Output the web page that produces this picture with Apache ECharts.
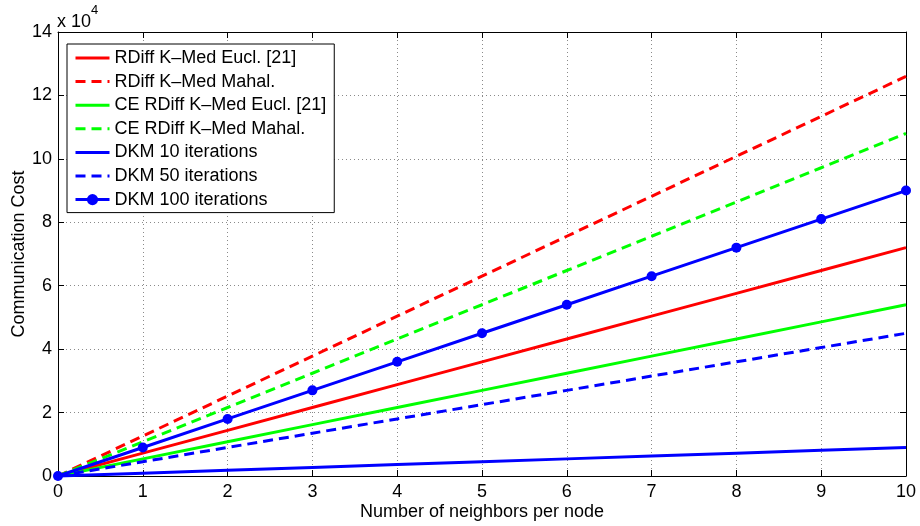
<!DOCTYPE html>
<html>
<head>
<meta charset="utf-8">
<script src="https://cdn.jsdelivr.net/npm/echarts@6/dist/echarts.min.js"></script>
<style>
  html, body { margin: 0; padding: 0; background: #fff; }
  #chart { width: 920px; height: 526px; }
</style>
</head>
<body>
<div id="chart"></div>
<script>
// neighbors per node
const neighbors = [0, 1, 2, 3, 4, 5, 6, 7, 8, 9, 10];
// communication cost, in units of 10^4
const rdiffEucl = [0, 0.72, 1.44, 2.16, 2.88, 3.6, 4.32, 5.04, 5.76, 6.48, 7.2];
const rdiffMahal = [0, 1.26, 2.52, 3.78, 5.04, 6.3, 7.56, 8.82, 10.08, 11.34, 12.6];
const ceEucl = [0, 0.54, 1.08, 1.62, 2.16, 2.7, 3.24, 3.78, 4.32, 4.86, 5.4];
const ceMahal = [0, 1.08, 2.16, 3.24, 4.32, 5.4, 6.48, 7.56, 8.64, 9.72, 10.8];
const dkm10 = [0, 0.09, 0.18, 0.27, 0.36, 0.45, 0.54, 0.63, 0.72, 0.81, 0.9];
const dkm50 = [0, 0.45, 0.9, 1.35, 1.8, 2.25, 2.7, 3.15, 3.6, 4.05, 4.5];
const dkm100 = [0, 0.9, 1.8, 2.7, 3.6, 4.5, 5.4, 6.3, 7.2, 8.1, 9.0];

const FONT = "'Liberation Sans', Arial, Helvetica, sans-serif";
const FS = 18;
const dash = [10, 6];

const pairs = (ys) => neighbors.map((x, i) => [x, ys[i]]);

const mkLine = (name, ys, color, dashed, marker) => ({
  name: name,
  type: "line",
  data: pairs(ys),
  symbol: marker ? "circle" : "none",
  symbolSize: 10,
  showSymbol: !!marker,
  clip: false,
  itemStyle: { color: color },
  lineStyle: { color: color, width: 3, type: dashed ? dash : "solid" },
  emphasis: { disabled: true },
  animation: false,
});

// legend entries; only the last one shows a marker
const legendItem = (name, marker) => ({
  name: name,
  itemStyle: { opacity: marker ? 1 : 0 },
});

const myChart = echarts.init(document.getElementById("chart"));

const option = {
  animation: false,
  textStyle: { fontFamily: FONT, color: "#000" },
  grid: { left: 58, right: 14, top: 32, bottom: 50, outerBoundsMode: "none", containLabel: false },
  legend: {
    left: 67,
    top: 44,
    orient: "vertical",
    backgroundColor: "#fff",
    borderColor: "#000",
    borderWidth: 1,
    padding: [4, 8, 3, 7],
    itemWidth: 34,
    itemHeight: 14,
    itemGap: 3.6,
    itemStyle: { borderWidth: 0 },
    lineStyle: { width: 3 },
    textStyle: { fontFamily: FONT, fontSize: FS, color: "#000", lineHeight: 20 },
    data: [
      legendItem("RDiff K–Med Eucl. [21]", false),
      legendItem("RDiff K–Med Mahal.", false),
      legendItem("CE RDiff K–Med Eucl. [21]", false),
      legendItem("CE RDiff K–Med Mahal.", false),
      legendItem("DKM 10 iterations", false),
      legendItem("DKM 50 iterations", false),
      legendItem("DKM 100 iterations", true),
    ],
  },
  xAxis: [
    {
      type: "value",
      min: 0,
      max: 10,
      interval: 1,
      name: "Number of neighbors per node",
      nameLocation: "middle",
      nameGap: 27,
      nameMoveOverlap: false,
      nameTextStyle: { fontSize: FS, color: "#000", fontFamily: FONT },
      axisLine: { show: true, lineStyle: { color: "#000", width: 1 } },
      axisTick: { show: true, inside: true, length: 6, lineStyle: { color: "#000" } },
      axisLabel: { fontSize: FS, color: "#000", margin: 7, fontFamily: FONT },
      splitLine: { show: true, lineStyle: { color: "#8a8a8a", type: [1, 3], width: 1 } },
    },
    {
      type: "value",
      position: "top",
      min: 0,
      max: 10,
      interval: 1,
      axisLine: { show: true, onZero: false, lineStyle: { color: "#000", width: 1 } },
      axisTick: { show: true, inside: true, length: 6, lineStyle: { color: "#000" } },
      axisLabel: { show: false },
      splitLine: { show: false },
    },
  ],
  yAxis: [
    {
      type: "value",
      min: 0,
      max: 14,
      interval: 2,
      name: "Communication Cost",
      nameLocation: "middle",
      nameGap: 30,
      nameMoveOverlap: false,
      nameTextStyle: { fontSize: FS, color: "#000", fontFamily: FONT },
      axisLine: { show: true, lineStyle: { color: "#000", width: 1 } },
      axisTick: { show: true, inside: true, length: 6, lineStyle: { color: "#000" } },
      axisLabel: { fontSize: FS, color: "#000", margin: 6, fontFamily: FONT },
      splitLine: { show: true, lineStyle: { color: "#8a8a8a", type: [1, 3], width: 1 } },
    },
    {
      type: "value",
      position: "right",
      min: 0,
      max: 14,
      interval: 2,
      axisLine: { show: true, onZero: false, lineStyle: { color: "#000", width: 1 } },
      axisTick: { show: true, inside: true, length: 6, lineStyle: { color: "#000" } },
      axisLabel: { show: false },
      splitLine: { show: false },
    },
  ],
  graphic: [
    {
      type: "text",
      left: 57,
      top: 4,
      style: {
        text: "{a|x 10}{b|4}",
        rich: {
          a: { fontSize: FS, fontFamily: FONT, fill: "#000", padding: [9, 0, 0, 0] },
          b: { fontSize: 13, fontFamily: FONT, fill: "#000", verticalAlign: "top" },
        },
      },
    },
  ],
  series: [
    mkLine("RDiff K–Med Eucl. [21]", rdiffEucl, "#ff0000", false, false),
    mkLine("RDiff K–Med Mahal.", rdiffMahal, "#ff0000", true, false),
    mkLine("CE RDiff K–Med Eucl. [21]", ceEucl, "#00ff00", false, false),
    mkLine("CE RDiff K–Med Mahal.", ceMahal, "#00ff00", true, false),
    mkLine("DKM 10 iterations", dkm10, "#0000ff", false, false),
    mkLine("DKM 50 iterations", dkm50, "#0000ff", true, false),
    mkLine("DKM 100 iterations", dkm100, "#0000ff", false, true),
  ],
};

myChart.setOption(option);
window.addEventListener("resize", () => {
  myChart.resize();
});
</script>
</body>
</html>
